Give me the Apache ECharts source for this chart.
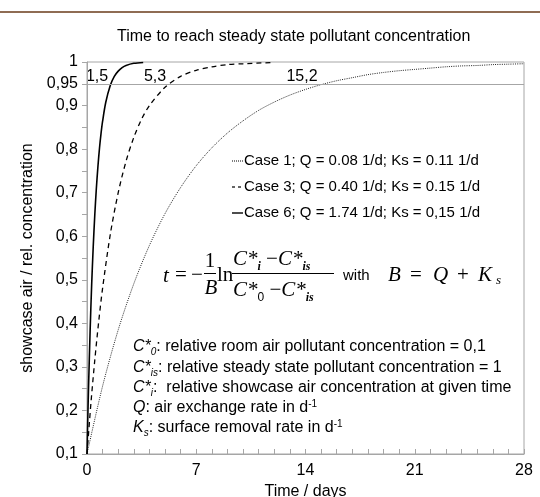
<!DOCTYPE html>
<html><head><meta charset="utf-8">
<script src="https://cdn.jsdelivr.net/npm/echarts@6/dist/echarts.min.js"></script>
<style>html,body{margin:0;padding:0;background:#fff}#c{width:540px;height:497px}</style>
</head><body><div id="c"></div>
<script>
// Case 6 (solid): Q = 1.74, Ks = 0.15
const case6T = [0, 0.05, 0.1, 0.2, 0.3, 0.4, 0.5, 0.6, 0.7, 0.8, 0.9, 1.0, 1.2, 1.5, 1.75, 2, 2.25, 2.5, 3, 3.6];
const case6C = [0.1, 0.181, 0.255, 0.383, 0.490, 0.577, 0.650, 0.710, 0.760, 0.802, 0.836, 0.864, 0.907, 0.947, 0.967, 0.979, 0.987, 0.992, 0.997, 0.999];
// Case 3 (dashed): Q = 0.40, Ks = 0.15
const case3T = [0, 0.25, 0.5, 0.75, 1, 1.5, 2, 2.5, 3, 3.5, 4, 5, 6, 7, 8, 9, 10, 12];
const case3C = [0.1, 0.216, 0.316, 0.404, 0.481, 0.606, 0.700, 0.772, 0.827, 0.869, 0.900, 0.942, 0.967, 0.981, 0.989, 0.994, 0.996, 0.999];
// Case 1 (dotted): Q = 0.08, Ks = 0.11
const case1T = [0,1,2,3,4,5,6,7,8,9,10,11,12,13,14,15,16,17,18,19,20,21,22,23,24,25,26,27,28];
const case1C = [0.1,0.256,0.385,0.491,0.579,0.652,0.712,0.762,0.803,0.837,0.865,0.889,0.908,0.924,0.937,0.948,0.957,0.964,0.971,0.976,0.980,0.983,0.986,0.989,0.991,0.992,0.994,0.995,0.996];
const steadyLine = 0.95;
const xTickLabels = [0, 7, 14, 21, 28];
const t95Labels = ['1,5', '5,3', '15,2'];
const legendTexts = ['Case 1; Q = 0.08 1/d; Ks = 0.11 1/d', 'Case 3; Q = 0.40 1/d; Ks = 0.15 1/d', 'Case 6; Q = 1.74 1/d; Ks = 0,15 1/d'];

const SANS = 'Liberation Sans, Arial, sans-serif';
const SERIF = 'Liberation Serif, Times New Roman, serif';
const AX = '#a6a6a6';

function pairs(t, c) { return t.map((v, i) => [v, c[i]]); }

const chart = echarts.init(document.getElementById('c'), null, {renderer: 'canvas'});

const noteRich = {
  it: {fontFamily: SANS, fontStyle: 'italic', fontSize: 16, color: '#000', lineHeight: 20},
  n: {fontFamily: SANS, fontSize: 16, color: '#000', lineHeight: 20},
  sub: {fontFamily: SANS, fontStyle: 'italic', fontSize: 10, color: '#000', verticalAlign: 'bottom', lineHeight: 20},
  sup: {fontFamily: SANS, fontSize: 10, color: '#000', verticalAlign: 'top', lineHeight: 20, padding: [1, 0, 0, 0]}
};
const fRich = {
  i: {fontFamily: SERIF, fontStyle: 'italic', fontSize: 21, color: '#000'},
  r: {fontFamily: SERIF, fontSize: 21, color: '#000'},
  sub: {fontFamily: SERIF, fontStyle: 'italic', fontWeight: 'bold', fontSize: 12, color: '#000', verticalAlign: 'bottom', lineHeight: 27},
  subr: {fontFamily: SANS, fontSize: 12, color: '#000', verticalAlign: 'bottom', lineHeight: 27}
};
function ftxt(x, y, t, align) {
  return {type: 'text', x: x, y: y, style: {text: t, rich: fRich, align: align || 'left', verticalAlign: 'middle'}};
}
function t95(x, s) {
  return {type: 'text', x: x, y: 77, style: {text: s, font: '16px ' + SANS, fill: '#000', align: 'center', verticalAlign: 'middle'}};
}
function note(y, t) {
  return {type: 'text', x: 133, y: y, style: {text: t, rich: noteRich, verticalAlign: 'middle'}};
}

const graphics = [
  {type: 'rect', shape: {x: 0, y: 11, width: 540, height: 2}, style: {fill: '#8f6c53'}, silent: true},
  t95(97, t95Labels[0]), t95(155, t95Labels[1]), t95(302, t95Labels[2]),
  // legend samples
  {type: 'line', shape: {x1: 232, y1: 161, x2: 243, y2: 161}, style: {stroke: '#000', lineWidth: 1, lineDash: [1, 1]}},
  {type: 'line', shape: {x1: 232, y1: 187, x2: 243, y2: 187}, style: {stroke: '#000', lineWidth: 1.2, lineDash: [3, 3]}},
  {type: 'line', shape: {x1: 232, y1: 213, x2: 243, y2: 213}, style: {stroke: '#000', lineWidth: 1.4}},
  {type: 'text', x: 244, y: 161, style: {text: legendTexts[0], font: '15px ' + SANS, fill: '#000', verticalAlign: 'middle'}},
  {type: 'text', x: 244, y: 187, style: {text: legendTexts[1], font: '15px ' + SANS, fill: '#000', verticalAlign: 'middle'}},
  {type: 'text', x: 244, y: 213, style: {text: legendTexts[2], font: '15px ' + SANS, fill: '#000', verticalAlign: 'middle'}},
  // formula
  ftxt(163, 276, '{i|t}'),
  ftxt(175, 275, '{r|=}'),
  ftxt(191, 275, '{r|−}'),
  ftxt(210, 261, '{r|1}', 'center'),
  {type: 'line', shape: {x1: 204, y1: 273.5, x2: 216, y2: 273.5}, style: {stroke: '#000', lineWidth: 1}},
  ftxt(211, 288, '{i|B}', 'center'),
  ftxt(217, 275, '{r|ln}'),
  ftxt(233, 259, '{i|C}{i|*}{sub|i}{r| −}{i|C}{i|*}{sub|is}'),
  {type: 'line', shape: {x1: 232, y1: 273.5, x2: 334, y2: 273.5}, style: {stroke: '#000', lineWidth: 1}},
  ftxt(233, 290, '{i|C}{i|*}{subr|0}{r| −}{i|C}{i|*}{sub|is}'),
  {type: 'text', x: 343, y: 276, style: {text: 'with', font: '15px ' + SANS, fill: '#000', verticalAlign: 'middle'}},
  ftxt(388, 275, '{i|B}'),
  ftxt(410, 275, '{r|=}'),
  ftxt(433, 275, '{i|Q}'),
  ftxt(457, 275, '{r|+}'),
  ftxt(478, 275, '{i|K}'),
  {type: 'text', x: 496, y: 281, style: {text: 's', font: 'italic 13px ' + SERIF, fill: '#000', verticalAlign: 'middle'}},
  // notes
  note(347, '{it|C*}{sub|0}{n|: relative room air pollutant concentration = 0,1}'),
  note(368, '{it|C*}{sub|is}{n|: relative steady state pollutant concentration = 1}'),
  note(388, '{it|C*}{sub|i}{n|:  relative showcase air concentration at given time}'),
  note(408, '{it|Q}{n|: air exchange rate in d}{sup|-1}'),
  note(428, '{it|K}{sub|s}{n|: surface removal rate in d}{sup|-1}')
];

chart.setOption({
  animation: false,
  backgroundColor: '#fff',
  title: {text: 'Time to reach steady state pollutant concentration', left: 112, top: 24,
    textStyle: {fontFamily: SANS, fontSize: 16, fontWeight: 'normal', color: '#000'}},
  grid: {left: 87, right: 16, top: 62, bottom: 43, show: true, borderColor: AX, borderWidth: 1,
    containLabel: false, outerBoundsMode: 'none'},
  xAxis: {
    type: 'value', min: 0, max: 28, interval: 1,
    name: 'Time / days', nameLocation: 'middle', nameGap: 29,
    nameTextStyle: {fontFamily: SANS, fontSize: 16, color: '#000'},
    axisLine: {show: true, lineStyle: {color: AX}},
    axisTick: {show: true, inside: true, length: 5, lineStyle: {color: AX}},
    splitLine: {show: false},
    axisLabel: {margin: 9, fontFamily: SANS, fontSize: 16, color: '#000',
      formatter: v => xTickLabels.indexOf(Math.round(v)) >= 0 && Math.abs(v - Math.round(v)) < 1e-6 ? String(Math.round(v)) : ''}
  },
  yAxis: {
    type: 'value', min: 0.1, max: 1, interval: 0.05,
    name: 'showcase air / rel. concentration', nameLocation: 'middle', nameGap: 42,
    nameTextStyle: {fontFamily: SANS, fontSize: 16, color: '#000'},
    axisLine: {show: true, lineStyle: {color: AX}},
    axisTick: {show: true, inside: false, length: 5, lineStyle: {color: AX}},
    splitLine: {show: false},
    axisLabel: {margin: 9, fontFamily: SANS, fontSize: 16, color: '#000',
      formatter: v => { const k = Math.round(v * 100); if (k === 95) return '0,95'; if (k === 100) return '1'; if (k % 10 === 0) return '0,' + (k / 10); return ''; }}
  },
  series: [
    {type: 'line', data: pairs(case1T, case1C), smooth: 0.3, showSymbol: false,
      lineStyle: {color: '#222', width: 1, type: [1, 1.2]},
      markLine: {silent: true, symbol: ['none', 'none'], label: {show: false},
        lineStyle: {color: AX, type: 'solid', width: 1}, data: [{yAxis: steadyLine}]}},
    {type: 'line', data: pairs(case3T, case3C), smooth: 0.3, showSymbol: false,
      lineStyle: {color: '#000', width: 1.3, type: [5, 4]}},
    {type: 'line', data: pairs(case6T, case6C), smooth: 0.3, showSymbol: false,
      lineStyle: {color: '#000', width: 1.6, type: 'solid'}}
  ],
  graphic: graphics
});
</script></body></html>
